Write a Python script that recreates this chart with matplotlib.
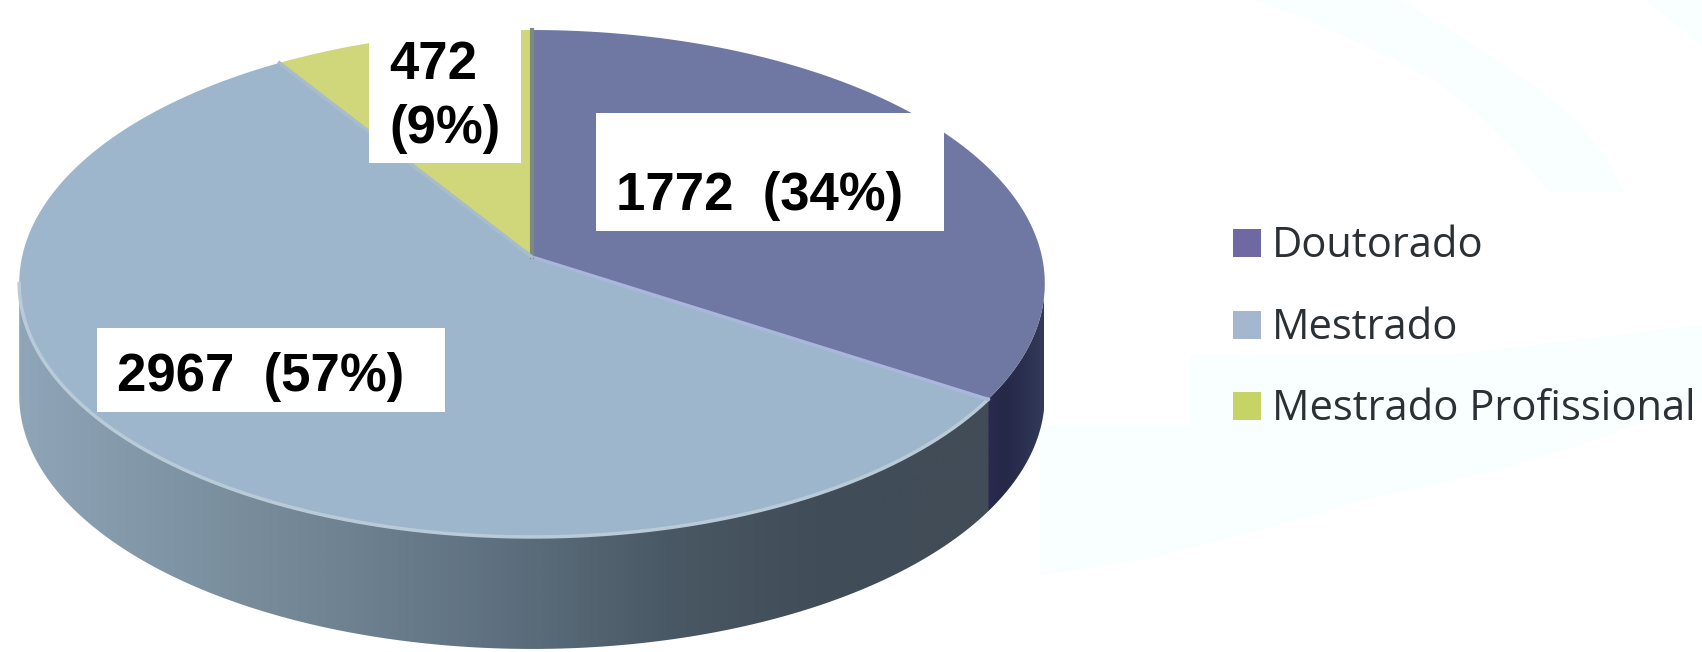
#imports
import numpy as np
import matplotlib
matplotlib.use('Agg')
import matplotlib.pyplot as plt
from matplotlib.colors import LinearSegmentedColormap
from matplotlib.patches import Polygon, Rectangle


#--------- data ---------
categories = ['Doutorado', 'Mestrado', 'Mestrado Profissional']
values = [1772, 2967, 472]
percents = [34, 57, 9]
label_texts = ['1772  (34%)', '2967  (57%)', '472\n(9%)']


#--------- style ---------
top_colors = ['#6f78a3', '#9db6cc', '#d0d67a']
legend_colors = ['#6f69a3', '#a3b8cf', '#c6d365']
bg_swoosh = '#f9fefe'

# geometry of the tilted disc, in pixels
CX, CY = 532, 257
A, B, K = 510, 250.7, 0.1045   # projective circle, K is the perspective
DEPTH = 112


#--------- functions ---------
def disc(theta_, shift_=0):
    # theta clockwise from the top of the pie, radians
    u = np.sin(theta_)
    v = np.cos(theta_)
    w = 1 + K*v
    return CX + A*u/w, CY - B*v/w + shift_

def side_poly(t0_, t1_):
    t = np.linspace(t0_, t1_, 200)
    x1, y1 = disc(t)
    x2, y2 = disc(t[::-1], DEPTH)
    return np.column_stack([np.r_[x1, x2], np.r_[y1, y2]])

def grad_side(ax_, t0_, t1_, colors_, x0_, x1_):
    cmap = LinearSegmentedColormap.from_list('side', colors_)
    im = ax_.imshow(np.linspace(0, 1, 400)[None, :], cmap=cmap, aspect='auto',
                    extent=[x0_, x1_, 652, 0], zorder=2)
    clip = Polygon(side_poly(t0_, t1_), closed=True, transform=ax_.transData)
    im.set_clip_path(clip)


#--------- plot ---------
fig = plt.figure(figsize=(17.02, 6.52), dpi=100)
ax = fig.add_axes([0, 0, 1, 1])
ax.axis('off')

# pale background swooshes
ax.fill([1255, 1300, 1345, 1390, 1432, 1470, 1510, 1550, 1625, 1600, 1572, 1535, 1490, 1445, 1400],
        [0, 16, 36, 57, 79, 106, 145, 192, 192, 150, 117, 86, 55, 27, 0], color=bg_swoosh, lw=0, zorder=0)
ax.fill([1646, 1675, 1702, 1702], [0, 0, 0, 45], color=bg_swoosh, lw=0, zorder=0)
ax.fill([1040, 1190, 1190, 1450, 1702, 1702, 1590, 1490, 1379, 1260, 1150, 1040],
        [425, 425, 355, 355, 325, 400, 442, 472, 496, 530, 558, 575], color=bg_swoosh, lw=0, zorder=0)

# angles from the values, clockwise from the top
edges = 2*np.pi*np.r_[0, np.cumsum(values)] / np.sum(values)

# side wall, runs out to the widest points of the disc
left_end = 2*np.pi - np.arccos(-K)
right_end = np.arccos(-K)
grad_side(ax, edges[1], left_end, ['#8fa6b8', '#7e93a3', '#6f8291', '#5d6f7e', '#495864', '#404c57', '#424c58'], 18, 1000)
grad_side(ax, right_end, edges[1], ['#2a2a50', '#262848', '#2b3050', '#343a58'], 985, 1044)

# top faces
for i in range(len(values)):
    t = np.linspace(edges[i], edges[i+1], 150)
    x, y = disc(t)
    ax.fill(np.r_[CX, x], np.r_[CY, y], color=top_colors[i], lw=0, zorder=3)

# light rim on the front, lit edges between the slices
t = np.linspace(edges[1], left_end, 200)
x, y = disc(t)
ax.plot(x, y, color='#b9cbd8', lw=2.5, zorder=4)
x, y = disc(np.array([edges[1]]))
ax.plot([CX, x[0]], [CY, y[0]], color='#aab6dc', lw=2.5, zorder=4)
x, y = disc(np.array([0.0]))
ax.plot([CX, x[0]], [CY, y[0]], color='#7d8a80', lw=3, zorder=4)
x, y = disc(np.array([edges[2]]))
ax.plot([CX, x[0]], [CY, y[0]], color='#a9bccb', lw=2.5, zorder=4)

# label boxes
ax.add_patch(Rectangle((596, 113), 348, 118, fc='white', ec='none', zorder=5))
ax.add_patch(Rectangle((97, 328), 348, 84, fc='white', ec='none', zorder=5))
ax.add_patch(Rectangle((369, 12), 152, 151, fc='white', ec='none', zorder=5))

ax.text(616, 196, label_texts[0], family='Liberation Sans', weight='bold', fontsize=38,
        va='center', ha='left', zorder=6)
ax.text(117, 377, label_texts[1], family='Liberation Sans', weight='bold', fontsize=38,
        va='center', ha='left', zorder=6)
ax.text(389, 97, label_texts[2], family='Liberation Sans', weight='bold', fontsize=38,
        va='center', ha='left', linespacing=1.335, zorder=6)

# legend
leg_y = [243, 325, 406]
for i in range(len(categories)):
    ax.add_patch(Rectangle((1233, leg_y[i]-14), 28, 28, fc=legend_colors[i], ec='none', zorder=5))
    ax.text(1272, leg_y[i]+3, categories[i], family='Open Sans', fontsize=30,
            color='#2b3035', va='center', ha='left', zorder=6)

ax.set_xlim(0, 1702)
ax.set_ylim(652, 0)

plt.savefig('out.png', dpi=100)
